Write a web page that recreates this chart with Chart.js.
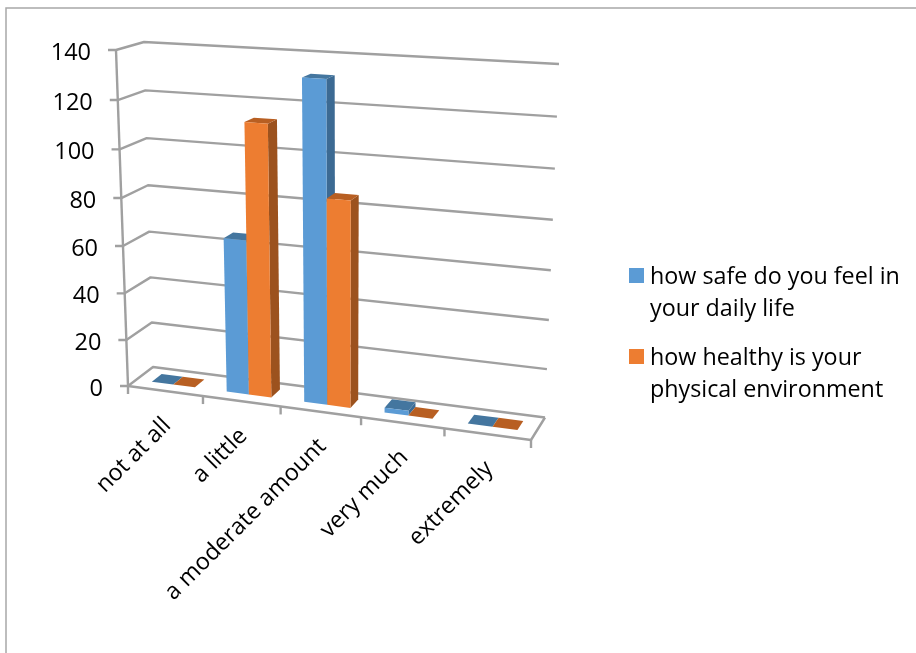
<!DOCTYPE html>
<html>
<head>
<meta charset="utf-8">
<style>
  html, body { margin: 0; padding: 0; background: #fff; }
  canvas { display: block; }
</style>
<script src="https://cdn.jsdelivr.net/npm/chart.js@4"></script>
</head>
<body>
<canvas id="chart" width="916" height="653"></canvas>
<script>
const categories = ["not at all", "a little", "a moderate amount", "very much", "extremely"]
const safeValues = [0, 65, 132, 2, 0]
const healthyValues = [0, 113, 85, 0, 0]
const safeLabel = ["how safe do you feel in", "your daily life"]
const healthyLabel = ["how healthy is your", "physical environment"]
const maxValue = 140
const tickStep = 20

const fontName = '"Open Sans", sans-serif'
const lineColor = "#a0a0a0"

// corners of the 3D box on screen
const floorFrontLeft = {x:128, y:386}
const floorFrontRight = {x:531, y:440}
const floorBackLeft = {x:153, y:367}
const floorBackRight = {x:545, y:417.5}
const roofFrontLeft = {x:116, y:50}
const roofFrontRight = {x:547, y:74}
const roofBackLeft = {x:144, y:42}
const roofBackRight = {x:559, y:64}
const heightWarp = -0.048

// depth of the bars inside the floor, 0 is front and 1 is back
const barFront = 0.33
const barBack = 0.73

const seriesStyles = [
    {front:"#5b9bd5", side:"#3c6a93", top:"#44769f"},
    {front:"#ed7d31", side:"#9c521e", top:"#b85f22"}
]

function quadMap(a, b, d, c){

    const dx1 = b.x - d.x, dx2 = c.x - d.x, sx = a.x - b.x + d.x - c.x
    const dy1 = b.y - d.y, dy2 = c.y - d.y, sy = a.y - b.y + d.y - c.y
    const den = dx1 * dy2 - dx2 * dy1
    const p = (sx * dy2 - dx2 * sy) / den
    const q = (dx1 * sy - sx * dy1) / den

    return (u, v)=>{
        const w = 1 + p * u + q * v
        return {
            x: (a.x + u * (b.x * (1 + p) - a.x) + v * (c.x * (1 + q) - a.x)) / w,
            y: (a.y + u * (b.y * (1 + p) - a.y) + v * (c.y * (1 + q) - a.y)) / w
        }
    }

}

const floorMap = quadMap(floorFrontLeft, floorFrontRight, floorBackRight, floorBackLeft)
const roofMap = quadMap(roofFrontLeft, roofFrontRight, roofBackRight, roofBackLeft)

function project(u, v, h){

    const f = floorMap(u, v)
    const t = roofMap(u, v)
    const k = h * (1 + heightWarp) / (1 + heightWarp * h)

    return {x: f.x + (t.x - f.x) * k, y: f.y + (t.y - f.y) * k}

}

function strokePath(ctx, pts){

    ctx.beginPath()
    pts.forEach((pt, i)=>{
        if(i === 0) ctx.moveTo(pt.x, pt.y)
        else ctx.lineTo(pt.x, pt.y)
    })
    ctx.stroke()

}

function fillFace(ctx, pts, color){

    ctx.fillStyle = color
    ctx.beginPath()
    pts.forEach((pt, i)=>{
        if(i === 0) ctx.moveTo(pt.x, pt.y)
        else ctx.lineTo(pt.x, pt.y)
    })
    ctx.closePath()
    ctx.fill()

}

function drawFrame(ctx){

    ctx.strokeStyle = "#a8a8a8"
    ctx.lineWidth = 1.5
    strokePath(ctx, [{x:6, y:653}, {x:6, y:8}, {x:916, y:8}])

}

function drawBox(chart, ctx){

    const yScale = chart.scales.y
    const xScale = chart.scales.x

    ctx.strokeStyle = lineColor
    ctx.lineWidth = 2.4
    ctx.lineCap = "butt"
    ctx.lineJoin = "round"

    // wall grid and value labels
    ctx.font = `23.5px ${fontName}`
    ctx.textAlign = "right"
    ctx.textBaseline = "middle"

    yScale.ticks.forEach((tick)=>{

        const h = (yScale.bottom - yScale.getPixelForValue(tick.value)) / yScale.height
        const front = project(0, 0, h)
        const back = project(0, 1, h)
        const right = project(1, 1, h)

        strokePath(ctx, [{x:front.x - 8, y:front.y}, front, back, right])

        ctx.fillStyle = "#000"
        ctx.fillText(String(tick.value), front.x - 25, front.y + 3)

    })

    // front axis and floor outline
    strokePath(ctx, [project(0, 0, 1), project(0, 0, 0)])
    strokePath(ctx, [project(0, 0, 0), project(1, 0, 0), project(1, 1, 0)])

    // category ticks and labels
    categories.forEach((name, i)=>{

        const left = (xScale.getPixelForValue(i) - xScale.left) / xScale.width - 0.5 / categories.length
        const start = project(left, 0, 0)
        strokePath(ctx, [start, {x:start.x, y:start.y + 8}])

    })

    const end = project(1, 0, 0)
    strokePath(ctx, [end, {x:end.x, y:end.y + 8}])

    ctx.font = `23.3px ${fontName}`
    ctx.fillStyle = "#000"

    categories.forEach((name, i)=>{

        const mid = (xScale.getPixelForValue(i) - xScale.left) / xScale.width
        const at = project(mid, 0, 0)

        ctx.save()
        ctx.translate(at.x + 2, at.y + 31)
        ctx.rotate(-Math.PI / 4)
        ctx.fillText(name, 0, 0)
        ctx.restore()

    })

}

function drawBars(chart, ctx){

    const xScale = chart.scales.x
    const yScale = chart.scales.y

    categories.forEach((name, i)=>{

        seriesStyles.forEach((style, s)=>{

            const bar = chart.getDatasetMeta(s).data[i]
            const u0 = (bar.x - bar.width / 2 - xScale.left) / xScale.width
            const u1 = (bar.x + bar.width / 2 - xScale.left) / xScale.width
            const h = (yScale.bottom - bar.y) / yScale.height

            fillFace(ctx, [
                project(u1, barFront, 0), project(u1, barBack, 0),
                project(u1, barBack, h), project(u1, barFront, h)
            ], style.side)

            fillFace(ctx, [
                project(u0, barFront, h), project(u1, barFront, h),
                project(u1, barBack, h), project(u0, barBack, h)
            ], style.top)

            fillFace(ctx, [
                project(u0, barFront, 0), project(u1, barFront, 0),
                project(u1, barFront, h), project(u0, barFront, h)
            ], style.front)

        })

    })

}

function drawLegend(chart, ctx){

    ctx.font = `23.3px ${fontName}`
    ctx.textAlign = "left"
    ctx.textBaseline = "middle"

    const rows = [
        {lines:safeLabel, boxY:268, textY:277},
        {lines:healthyLabel, boxY:349, textY:358}
    ]

    rows.forEach((row, s)=>{

        ctx.fillStyle = seriesStyles[s].front
        ctx.fillRect(629, row.boxY, 15, 15)

        ctx.fillStyle = "#000"
        row.lines.forEach((line, l)=>{
            ctx.fillText(line, 650, row.textY + l * 32.5)
        })

    })

}

const box3d = {

    id:"box3d",

    // the flat bars only serve as geometry for the 3D prisms
    beforeDatasetsDraw(chart){

        const ctx = chart.ctx
        ctx.save()
        drawFrame(ctx)
        drawBox(chart, ctx)
        drawBars(chart, ctx)
        drawLegend(chart, ctx)
        ctx.restore()
        return false

    }

}

new Chart(document.getElementById("chart"), {

    type:"bar",

    data:{
        labels:categories,
        datasets:[
            {label:safeLabel.join(" "), data:safeValues, backgroundColor:"#5b9bd5", categoryPercentage:0.58, barPercentage:1},
            {label:healthyLabel.join(" "), data:healthyValues, backgroundColor:"#ed7d31", categoryPercentage:0.58, barPercentage:1}
        ]
    },

    options:{
        responsive:false,
        animation:false,
        layout:{padding:0},
        plugins:{legend:{display:false}, tooltip:{enabled:false}},
        scales:{
            x:{display:false},
            y:{display:false, min:0, max:maxValue, ticks:{stepSize:tickStep}}
        }
    },

    plugins:[box3d]

})
</script>
</body>
</html>
